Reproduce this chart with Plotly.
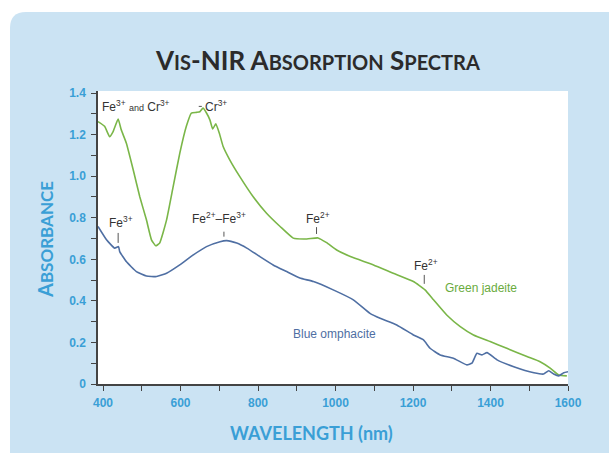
import plotly.graph_objects as go

# ---- data ----
green_nm = [387, 404, 417, 426, 439, 447, 460, 478, 495, 512, 525, 536, 546, 564, 581, 598,
            615, 628, 641, 650, 658, 667, 676, 683, 691, 700, 710, 727, 753, 788, 822, 857,
            891, 926, 955, 977, 1003, 1040, 1098, 1149, 1201, 1231, 1253, 1287, 1322, 1356,
            1399, 1442, 1494, 1528, 1554, 1576, 1597]
green_abs = [1.263, 1.24, 1.19, 1.215, 1.275, 1.223, 1.16, 1.03, 0.90, 0.79, 0.694, 0.665,
             0.678, 0.79, 0.95, 1.11, 1.24, 1.304, 1.307, 1.31, 1.328, 1.304, 1.27, 1.227,
             1.252, 1.208, 1.143, 1.079, 0.998, 0.90, 0.822, 0.758, 0.702, 0.698, 0.703, 0.68,
             0.645, 0.612, 0.573, 0.533, 0.493, 0.453, 0.405, 0.332, 0.276, 0.236, 0.204,
             0.172, 0.132, 0.107, 0.076, 0.043, 0.039]

blue_nm = [387, 409, 430, 440, 443, 460, 486, 512, 538, 564, 598, 633, 667, 702, 719, 745,
           771, 805, 839, 874, 908, 943, 994, 1046, 1089, 1115, 1158, 1201, 1227, 1244, 1270,
           1304, 1339, 1352, 1365, 1378, 1391, 1417, 1460, 1512, 1537, 1550, 1563, 1576,
           1589, 1600]
blue_abs = [0.758, 0.694, 0.654, 0.661, 0.637, 0.589, 0.541, 0.52, 0.517, 0.533, 0.573,
            0.621, 0.661, 0.685, 0.69, 0.678, 0.654, 0.613, 0.573, 0.541, 0.51, 0.493, 0.453,
            0.405, 0.34, 0.316, 0.284, 0.236, 0.212, 0.172, 0.14, 0.124, 0.092, 0.10, 0.148,
            0.14, 0.151, 0.116, 0.083, 0.054, 0.048, 0.064, 0.048, 0.039, 0.054, 0.059]

x_ticks = [400, 600, 800, 1000, 1200, 1400, 1600]
y_ticks = [0, 0.2, 0.4, 0.6, 0.8, 1.0, 1.2, 1.4]
y_tick_text = ["0", "0.2", "0.4", "0.6", "0.8", "1.0", "1.2", "1.4"]

GREEN = "#7ab648"
BLUE = "#4f6fa3"
TICKBLUE = "#3a9fd6"
DARK = "#333333"

fig = go.Figure()
fig.add_trace(go.Scatter(x=green_nm, y=green_abs, mode="lines", line_shape="spline",
                         line=dict(color=GREEN, width=1.6, smoothing=0.4),
                         showlegend=False, hoverinfo="skip"))
fig.add_trace(go.Scatter(x=blue_nm, y=blue_abs, mode="lines", line_shape="spline",
                         line=dict(color=BLUE, width=1.6, smoothing=0.4),
                         showlegend=False, hoverinfo="skip"))

W, H = 609, 453
L, R, T, B = 98, 41, 91, 69
pw, ph = W - L - R, H - T - B

def px(xp):
    return (xp - L) / pw

def py(yp):
    return (H - B - yp) / ph

# background panel with rounded top-left corner
x0, y0 = px(10), py(12)
x1, y1 = px(640), py(480)
rx, ry = 16 / pw, 16 / ph
path = (f"M {x0},{y1} L {x0},{y0 - ry} Q {x0},{y0} {x0 + rx},{y0} "
        f"L {x1},{y0} L {x1},{y1} Z")
shapes = [
    dict(type="path", xref="paper", yref="paper", path=path,
         fillcolor="#cbe3f3", line=dict(width=0), layer="below"),
    dict(type="rect", xref="paper", yref="paper", x0=0, x1=1, y0=0, y1=1,
         fillcolor="white", line=dict(width=0), layer="below"),
]

# small marker ticks under labels
tick_marks = [(439, 0.679, 0.727), (712, 0.709, 0.733), (951, 0.722, 0.755), (1229, 0.482, 0.525)]
for xm, ya, yb in tick_marks:
    shapes.append(dict(type="line", xref="x", yref="y", x0=xm, x1=xm, y0=ya, y1=yb,
                       line=dict(color="#555555", width=1)))
# dash leader before Cr3+
shapes.append(dict(type="line", xref="x", yref="y", x0=647, x1=655, y0=1.336, y1=1.336,
                   line=dict(color="#555555", width=1)))

lab_font = dict(family="Liberation Sans, Arial, sans-serif", size=12, color=DARK)
annotations = [
    dict(x=392, y=1.336, xanchor="left", yanchor="middle",
         text="Fe<sup>3+</sup> <span style='font-size:9px'>and</span> Cr<sup>3+</sup>"),
    dict(x=658, y=1.339, xanchor="left", yanchor="middle", text="Cr<sup>3+</sup>"),
    dict(x=446, y=0.78, xanchor="center", yanchor="middle", text="Fe<sup>3+</sup>"),
    dict(x=699, y=0.80, xanchor="center", yanchor="middle", text="Fe<sup>2+</sup>–Fe<sup>3+</sup>"),
    dict(x=955, y=0.80, xanchor="center", yanchor="middle", text="Fe<sup>2+</sup>"),
    dict(x=1233, y=0.575, xanchor="center", yanchor="middle", text="Fe<sup>2+</sup>"),
]
for a in annotations:
    a.update(xref="x", yref="y", showarrow=False, font=lab_font)
annotations.append(dict(x=1376, y=0.462, xref="x", yref="y", showarrow=False,
                        text="Green jadeite",
                        font=dict(family="Liberation Sans, Arial, sans-serif", size=12, color="#6aab3e")))
annotations.append(dict(x=998, y=0.241, xref="x", yref="y", showarrow=False,
                        text="Blue omphacite",
                        font=dict(family="Liberation Sans, Arial, sans-serif", size=12, color=BLUE)))

# title
sc = "font-size:20px"
title = (f"V<span style='{sc}'>IS</span>-NIR A<span style='{sc}'>BSORPTION</span> "
         f"S<span style='{sc}'>PECTRA</span>")
annotations.append(dict(x=px(317), y=py(60), xref="paper", yref="paper", showarrow=False,
                        xanchor="center", yanchor="middle", text=title,
                        font=dict(family="Lato, sans-serif", size=26, color="#2b2b2b", weight="bold")))
annotations.append(dict(x=px(45), y=py(240), xref="paper", yref="paper", showarrow=False,
                        xanchor="center", yanchor="middle", textangle=-90,
                        text="A<span style='font-size:17px'>BSORBANCE</span>",
                        font=dict(family="Lato, sans-serif", size=20, color=TICKBLUE, weight="bold")))
annotations.append(dict(x=px(311), y=py(433), xref="paper", yref="paper", showarrow=False,
                        xanchor="center", yanchor="middle",
                        text="WAVELENGTH (nm)",
                        font=dict(family="Lato, sans-serif", size=18, color=TICKBLUE, weight="bold")))

axis_common = dict(
    showgrid=False, zeroline=False, showline=True, linecolor="#444444", linewidth=1.5,
    ticks="outside", ticklen=5, tickwidth=1.3, tickcolor="#444444",
    tickfont=dict(family="Liberation Sans, Arial, sans-serif", size=12, color=TICKBLUE, weight="bold"),
)

fig.update_layout(
    width=W, height=H,
    margin=dict(l=L, r=R, t=T, b=B),
    paper_bgcolor="white", plot_bgcolor="rgba(0,0,0,0)",
    shapes=shapes, annotations=annotations,
    xaxis=dict(range=[387, 1600], tickvals=x_ticks, ticktext=[str(v) for v in x_ticks],
               minor=dict(dtick=100, tick0=400, ticks="outside", ticklen=5, tickwidth=1.3,
                          tickcolor="#444444"),
               ticklabelstandoff=2, **axis_common),
    yaxis=dict(range=[0, 1.41], tickvals=y_ticks, ticktext=y_tick_text,
               minor=dict(dtick=0.1, tick0=0, ticks="outside", ticklen=5, tickwidth=1.3,
                          tickcolor="#444444"),
               ticklabelstandoff=3, **axis_common),
)

fig.write_html("out.html", config={"displayModeBar": False},
               post_script="document.body.style.margin='0';document.body.style.overflow='hidden';")
